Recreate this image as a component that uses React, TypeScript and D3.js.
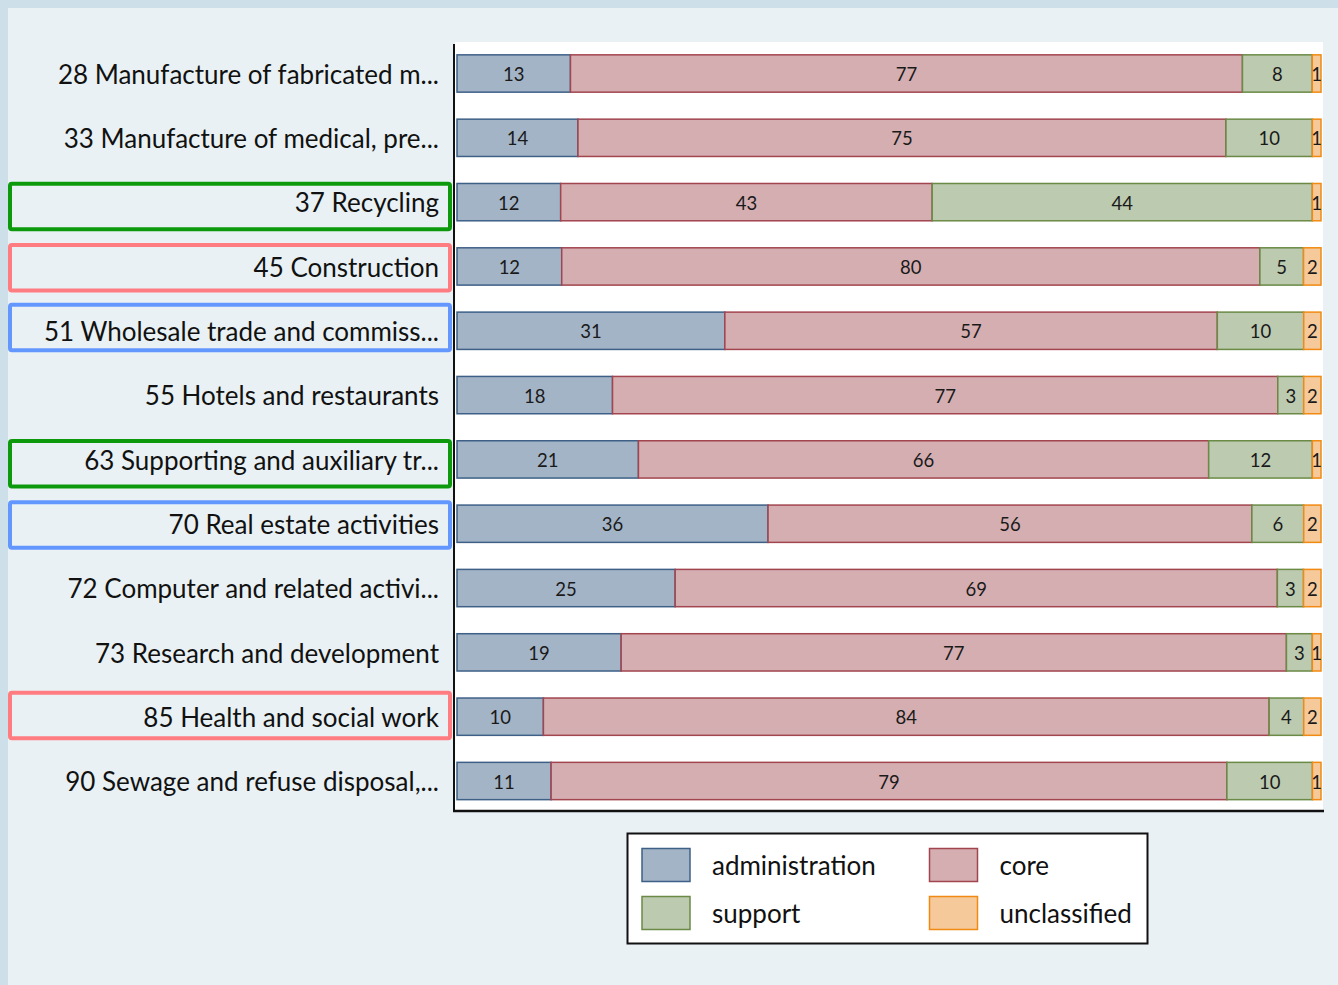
import React from "react";
import * as d3 from "d3";

const categories = [
  "28 Manufacture of fabricated m...",
  "33 Manufacture of medical, pre...",
  "37 Recycling",
  "45 Construction",
  "51 Wholesale trade and commiss...",
  "55 Hotels and restaurants",
  "63 Supporting and auxiliary tr...",
  "70 Real estate activities",
  "72 Computer and related activi...",
  "73 Research and development",
  "85 Health and social work",
  "90 Sewage and refuse disposal,...",
];
const administration = [13, 14, 12, 12, 31, 18, 21, 36, 25, 19, 10, 11];
const core = [77, 75, 43, 80, 57, 77, 66, 56, 69, 77, 84, 79];
const support = [8, 10, 44, 5, 10, 3, 12, 6, 3, 3, 4, 10];
const unclassified = [1, 1, 1, 2, 2, 2, 1, 2, 2, 1, 2, 1];
const highlights: Record<string, string> = {
  "37 Recycling": "green",
  "63 Supporting and auxiliary tr...": "green",
  "45 Construction": "red",
  "85 Health and social work": "red",
  "51 Wholesale trade and commiss...": "blue",
  "70 Real estate activities": "blue",
};
// hand-drawn annotation boxes are slightly offset from the row centres
const highlightShift: Record<string, number> = {
  "37 Recycling": 4,
  "63 Supporting and auxiliary tr...": 4,
  "45 Construction": 1,
  "85 Health and social work": -1.5,
  "51 Wholesale trade and commiss...": -3.5,
  "70 Real estate activities": 1,
};

const seriesKeys = ["administration", "core", "support", "unclassified"];
const fills: Record<string, string> = {
  administration: "#a3b4c6",
  core: "#d4aeb1",
  support: "#bccab0",
  unclassified: "#f6c99b",
};
const strokes: Record<string, string> = {
  administration: "#3e6087",
  core: "#a2454f",
  support: "#6a8a45",
  unclassified: "#f08a12",
};
const hlColors: Record<string, string> = {
  green: "#0c9a0c",
  red: "#ff7c80",
  blue: "#6497fd",
};

const W = 1338;
const H = 985;
const FONT = "Lato, 'Open Sans', sans-serif";

export default function App() {
  const rows = categories.map((c, i) => ({
    category: c,
    administration: administration[i],
    core: core[i],
    support: support[i],
    unclassified: unclassified[i],
  }));
  const stacked = d3.stack<any>().keys(seriesKeys).offset(d3.stackOffsetExpand)(rows);

  const plotLeft = 455;
  const plotRight = 1323;
  const plotTop = 42;
  const plotBottom = 811;

  const x = d3.scaleLinear().domain([0, 1]).range([457, 1321]);
  const y = d3
    .scaleBand<string>()
    .domain(categories)
    .range([41.34, 813.16])
    .paddingInner(0.42)
    .paddingOuter(0.21);
  const bh = y.bandwidth();
  const cy = (c: string) => (y(c) as number) + bh / 2;

  return (
    <svg width={W} height={H} style={{ display: "block", position: "absolute", left: 0, top: 0 }}>
      <rect x={0} y={0} width={W} height={H} fill="#cde0ea" />
      <rect x={8} y={8} width={W - 8} height={H - 8} fill="#e9f1f4" />
      <rect x={plotLeft} y={plotTop} width={plotRight - plotLeft} height={plotBottom - plotTop} fill="#ffffff" />

      {/* highlight boxes */}
      {categories.map((c) =>
        highlights[c] ? (
          <rect
            key={"hl" + c}
            x={10}
            y={cy(c) - 22.5 + (highlightShift[c] || 0)}
            width={440}
            height={45.5}
            rx={2}
            fill="none"
            stroke={hlColors[highlights[c]]}
            strokeWidth={4}
          />
        ) : null
      )}

      {/* category labels */}
      {categories.map((c) => (
        <text
          key={"lab" + c}
          x={439}
          y={cy(c) + 1}
          dy="0.36em"
          textAnchor="end"
          fontFamily={FONT}
          fontSize={26}
          fill="#111"
        >
          {c}
        </text>
      ))}

      {/* bars */}
      {stacked.map((s) => (
        <g key={s.key}>
          {s.map((d, i) => (
            <rect
              key={i}
              x={x(d[0])}
              y={y(categories[i]) as number}
              width={x(d[1]) - x(d[0])}
              height={bh}
              fill={fills[s.key]}
              stroke={strokes[s.key]}
              strokeWidth={1.5}
            />
          ))}
        </g>
      ))}
      {stacked.map((s) => (
        <g key={"t" + s.key}>
          {s.map((d, i) => (
            <text
              key={i}
              x={(x(d[0]) + x(d[1])) / 2}
              y={cy(categories[i]) + 1}
              dy="0.36em"
              textAnchor="middle"
              fontFamily={FONT}
              fontSize={18.5}
              fill="#1a1a1a"
            >
              {(d.data as any)[s.key]}
            </text>
          ))}
        </g>
      ))}

      {/* axes */}
      <line x1={454} x2={454} y1={plotTop + 2} y2={plotBottom + 1} stroke="#111" strokeWidth={2} />
      <line x1={453} x2={plotRight + 1} y1={plotBottom} y2={plotBottom} stroke="#111" strokeWidth={2.5} />

      {/* legend */}
      <g>
        <rect x={627.5} y={833.5} width={520} height={110} fill="#ffffff" stroke="#111" strokeWidth={2} />
        {seriesKeys.map((k, i) => {
          const col = i % 2;
          const row = Math.floor(i / 2);
          const lx = col === 0 ? 642 : 929.5;
          const ly = row === 0 ? 848.5 : 896.5;
          return (
            <g key={"leg" + k}>
              <rect x={lx} y={ly} width={48} height={33} fill={fills[k]} stroke={strokes[k]} strokeWidth={1.5} />
              <text
                x={lx + 70}
                y={ly + 17.5}
                dy="0.36em"
                fontFamily={FONT}
                fontSize={26}
                fill="#111"
              >
                {k}
              </text>
            </g>
          );
        })}
      </g>
    </svg>
  );
}
